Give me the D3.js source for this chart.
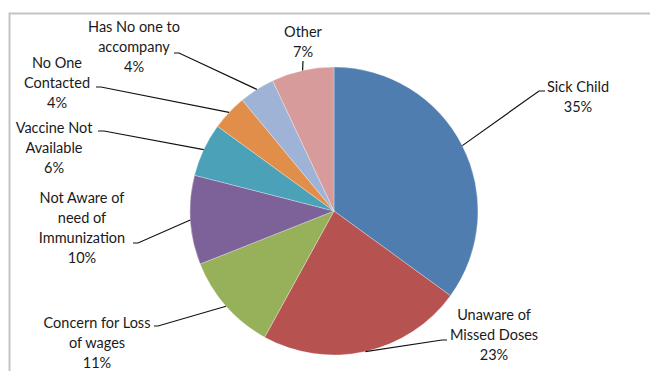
<!DOCTYPE html>
<html>
<head>
<meta charset="utf-8">
<script src="https://cdn.jsdelivr.net/npm/d3@7"></script>
<style>
  body { margin: 0; background: #fff; }
  svg { display: block; }
</style>
</head>
<body>
<script>
// reasons for missed immunization, share in percent
const categories = ["Sick Child", "Unaware of Missed Doses", "Concern for Loss of wages",
    "Not Aware of need of Immunization", "Vaccine Not Available", "No One Contacted",
    "Has No one to accompany", "Other"];
const percents = [35, 23, 11, 10, 6, 4, 4, 7];
const labelLines = [["Sick Child"], ["Unaware of", "Missed Doses"], ["Concern for Loss", "of wages"],
    ["Not Aware of", "need of", "Immunization"], ["Vaccine Not", "Available"], ["No One", "Contacted"],
    ["Has No one to", "accompany"], ["Other"]];
const colors = ["#4f7db0", "#b6524f", "#97b05a", "#7d6299", "#4aa1b8", "#e08e4a", "#9fb3d6", "#d69b9a"];

const w = 650;
const h = 371;
const cx = 334, cy = 211, radius = 144;

// where each label sits (center x, first line center y) and the elbow of its leader line
const labelLayout = [
    { x: 578, y: 87, ex: 539, ey: 91, tx: 545 },
    { x: 494, y: 315, ex: 442, ey: 340, tx: 447 },
    { x: 97, y: 323, ex: 158, ey: 326, tx: 154 },
    { x: 82, y: 198, ex: 138, ey: 243, tx: 133 },
    { x: 54, y: 128, ex: 104, ey: 131, tx: 98 },
    { x: 57, y: 63, ex: 101, ey: 87, tx: 96 },
    { x: 134, y: 27, ex: 179, ey: 53, tx: 174 },
    { x: 303, y: 32, ex: 303, ey: 61, tx: 303 }
];

const data = categories.map((c, i) => ({ name: c, value: percents[i], i: i }));

const svg = d3.select("body").append("svg")
    .attr("width", w)
    .attr("height", h);

// chart frame
svg.append("rect")
    .attr("x", 9.5).attr("y", 13.5)
    .attr("width", 700).attr("height", 400)
    .attr("fill", "none")
    .attr("stroke", "#c4c4c4")
    .attr("stroke-width", 2);

const pie = d3.pie().sort(null).value(d => d.value);
const arcs = pie(data);
const arc = d3.arc().innerRadius(0).outerRadius(radius);

const g = svg.append("g").attr("transform", `translate(${cx},${cy})`);

g.selectAll("path")
    .data(arcs)
    .enter()
    .append("path")
    .attr("d", arc)
    .attr("fill", (d, i) => colors[i])
    .attr("stroke", "rgba(255,255,255,0.5)")
    .attr("stroke-width", 0.6);

// leader lines from slice edge to label
svg.selectAll("polyline.leader")
    .data(arcs)
    .enter()
    .append("polyline")
    .attr("class", "leader")
    .attr("fill", "none")
    .attr("stroke", "#111")
    .attr("stroke-width", 1.2)
    .attr("points", (d, i) => {
        let a = (d.startAngle + d.endAngle) / 2;
        let px = cx + radius * Math.sin(a);
        let py = cy - radius * Math.cos(a);
        let L = labelLayout[i];
        return [[px, py], [L.ex, L.ey], [L.tx, L.ey]].map(p => p.join(",")).join(" ");
    });

const labels = svg.selectAll("text.lbl")
    .data(data)
    .enter()
    .append("text")
    .attr("class", "lbl")
    .attr("text-anchor", "middle")
    .attr("font-family", "Lato, 'Open Sans', sans-serif")
    .attr("font-size", 14.5)
    .attr("fill", "#1a1a1a");

labels.each(function (d, i) {
    let L = labelLayout[i];
    let lines = labelLines[i].concat([d.value + "%"]);
    d3.select(this).selectAll("tspan")
        .data(lines)
        .enter()
        .append("tspan")
        .attr("x", L.x)
        .attr("y", (t, j) => L.y + j * 20 + 5)
        .text(t => t);
});
</script>
</body>
</html>
